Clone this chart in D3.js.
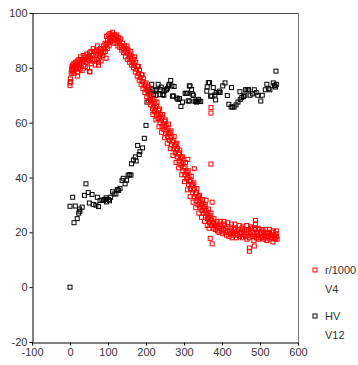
<!DOCTYPE html>
<html><head><meta charset="utf-8">
<script src="https://cdn.jsdelivr.net/npm/d3@7"></script>
<style>body{margin:0;background:#fff;} svg{display:block;} text{font-family:"Liberation Sans",Arial,sans-serif;}</style>
</head><body><svg id="c" width="358" height="365"></svg>
<script>
const xTicks = [-100,0,100,200,300,400,500,600];
const yTicks = [-20,0,20,40,60,80,100];
const legendLabels = [["r/1000","V4"],["HV","V12"]];
const seriesColors = ["#ff0000","#000000"];

const redPoints = [[0,73.5],[0,74.5],[1,76],[2,75],[3,78],[4,79.5],[5,80.5],[6,78.5],[7,81],[8,79],[9,80],[10,81.5],[11,78],[12,80.5],[14,82],[15,79.5],[16,81],[18,80],[19,82.5],[20,78.5],[22,81],[23,83],[24,80],[26,82],[27,79.5],[28,84],[30,81.5],[31,83],[32,79],[34,82.5],[35,84.5],[36,81],[38,83],[40,80.5],[41,84],[42,82],[44,85],[45,83],[46,80],[48,84],[50,82.5],[51,85.5],[52,78.5],[54,83.5],[55,86],[56,81.5],[58,84.5],[60,82.5],[61,87],[62,85],[64,83],[65,86],[66,81],[68,84.5],[70,86.5],[71,83],[72,88],[74,85],[75,82],[77,86],[78,84],[80,87],[81,85],[82,82.5],[84,86.5],[86,84.5],[88,88],[89,85.5],[90,87],[92,89],[93,86],[95,88.5],[96,91.5],[98,87],[99,90],[100,89],[101,92],[103,88],[104,90.5],[105,92.5],[107,89.5],[108,91],[110,92],[111,90],[112,93],[114,91],[115,89],[117,92],[118,90.5],[120,91.5],[121,89],[123,92],[125,90],[126,88],[128,91],[130,89.5],[131,87.5],[133,90.5],[135,88],[136,86.5],[138,89],[140,87],[141,85.5],[143,88],[145,86],[146,84],[148,87],[150,85.5],[152,83],[153,86.5],[155,84],[157,82],[158,85],[160,83.5],[162,81],[163,84],[165,82],[167,80],[168,83],[170,81],[172,78.5],[173,82],[175,79.5],[177,77],[178,80.5],[180,78],[182,75.5],[183,79],[185,76.5],[187,74],[188,77.5],[190,75],[192,72.5],[193,76],[195,73.5],[197,71],[198,74],[200,72],[202,69.5],[203,73],[205,70.5],[207,68],[208,71],[210,69],[212,66.5],[213,70],[215,67.5],[217,65],[218,68],[220,66],[222,64],[223,67],[225,65],[227,62.5],[228,66],[230,63.5],[232,61.5],[233,64.5],[235,62],[237,60],[238,63],[240,61],[242,58.5],[243,62],[245,59.5],[247,57.5],[248,60.5],[250,58.5],[252,56],[253,59],[255,57],[257,55],[258,58],[260,56],[262,53.5],[263,56.5],[265,54.5],[267,52],[268,55],[270,53],[272,50.5],[273,53.5],[275,51.5],[277,49],[278,52],[280,50],[282,47.5],[283,50.5],[285,48.5],[287,46],[288,49],[290,47],[292,44.5],[293,47.5],[295,45],[297,42.5],[298,45.5],[300,43.5],[302,41],[303,44],[305,42],[307,39.5],[308,42],[310,40],[312,37.5],[313,40.5],[315,38.5],[317,36],[318,39],[320,37],[322,34.5],[323,37.5],[325,35.5],[327,33],[328,36],[330,34],[332,31.5],[333,34.5],[335,32.5],[337,30],[338,33],[340,31],[342,29],[343,31.5],[345,30],[347,28],[348,30.5],[350,29],[352,27],[353,29.5],[355,28],[357,26],[358,28],[360,27],[362,25],[363,27],[365,25.5],[367,23.5],[368,26],[370,24.5],[372,22.5],[373,24.5],[375,23.5],[377,21.5],[378,23.5],[380,22.5],[382,21],[384,23],[386,22],[388,20.5],[390,22],[392,20],[394,21.5],[396,23],[398,20.5],[400,22],[402,19.5],[404,21],[406,23],[408,20],[410,21.5],[412,19],[414,20.5],[416,22],[418,18.5],[420,20.5],[422,19.5],[424,21.5],[426,18],[428,20],[430,19],[432,21],[434,23],[436,19.5],[438,18],[440,20.5],[442,19],[444,21],[446,18.5],[448,20],[450,19.5],[452,21.5],[454,18],[456,20],[458,19],[460,21],[462,18.5],[464,20.5],[466,17.5],[468,19.5],[470,21],[472,18],[474,20],[476,19],[478,21.5],[480,18.5],[482,20],[484,17],[486,19],[488,21],[490,18],[492,20],[494,19],[496,17.5],[498,21],[500,19.5],[502,18],[504,20],[506,18.5],[508,20.5],[510,17.5],[512,19],[514,18],[516,20],[518,17],[520,19.5],[522,18.5],[524,20],[526,17.5],[528,19],[530,18],[532,20],[534,16.5],[536,19],[538,18],[540,17.5],[542,19.5],[544,18.5],[545,17.5],
[310,46.6],[327,43.2],[371,44.9],[371,65.5],[371,63.5],[374,31],[358,31.7],[369,17.8],[374,15.8],[488,24.3],[488,23.1],[472,14.3],[472,13.1],[485,15],[20,77],[52,78.7],[75,81],[95,83.5],
[150,88],[160,86],[170,84],[180,80.5],[190,77.5],[200,74.5],[206,73],[214,71],[221,68.5],[229,67.5],[236,65],[244,63],[251,61],[259,59.5],[266,57],[274,55],[281,52.5],[289,50],[296,47.5],[304,45.5],[311,42.5],[319,40.5],[326,38],[334,36],[341,33.5],[349,32],[356,30],[364,28.5],[371,27],[379,25],[387,24],[395,24],[405,24],[415,23.5],[425,23],[435,21.5],[445,22.5],[455,22],[465,22.5],[475,22],[485,21.5],[495,21.5],[505,21],[515,21],[525,21],[535,20.5],[543,20.5],
[218,63],[226,61],[234,58.5],[241,56.5],[249,54.5],[256,52.5],[264,50.5],[271,48],[279,45.5],[286,43.5],[294,41],[301,38.5],[309,35.5],[316,33],[324,31],[331,29],[339,27],[346,25.5],[354,24],[361,22.5],[366,21.5]];

const blackPoints = [[0,0],[0,29.5],[7,32.8],[10.5,23.5],[19,25],[14,29.6],[26,27.7],[23,27],[25,28.5],[32,29.2],[38,33.5],[42,37.7],[48,34.5],[51,30.7],[58,33.8],[61,30.2],[68,29.9],[72,32.8],[75,29.4],[79,31.6],[84,31.8],[88,31.6],[92,32],[95,32.6],[96,31.1],[101,32],[104,31.5],[107,32.8],[112,34.8],[116,34],[121,34],[124.5,35.6],[128,35.3],[131.6,36],[137,38.9],[140,39.7],[145,37.7],[149,39],[153,40.9],[157,41],[160.5,40.9],[162,45],[167,46.4],[174,46],[172,47.5],[178,51.7],[182,48.4],[184,49.4],[191,50.8],[195.6,54.3],[200,59],[202.6,67.5],[206,72],[210,71.3],[212,68.5],[215,74],[218,72],[220,70.3],[224,71.8],[226,70],[228,72],[232,74],[237,72.1],[237,70.2],[240,73],[244,70.3],[247,70],[250,71.8],[254,72],[256,72.5],[259,73.4],[261,74],[265,75.4],[268,73.4],[270,69.7],[272,69.7],[274,73.2],[281,69],[284,68.5],[288,68.8],[292,65.9],[296,67.5],[303,70.7],[306,70.7],[309,70.7],[311,67.9],[314,73.4],[314,67.9],[316,73.4],[320,72.1],[323,70.4],[324.5,69.9],[329,67.7],[331,67.9],[333,67.5],[336,67.7],[338,68.5],[340,67.9],[344,67.7],[360,71.5],[361,73.1],[364,74.6],[367,74.6],[370,69.7],[373,69.7],[377,72.8],[381,70.1],[383,68.3],[385,71],[390,71],[393,71.5],[395,71],[402,73.4],[408,74.5],[414,69.9],[418,66.7],[424,65.7],[425,72.8],[428,65.7],[432,65.7],[437,66.5],[442,67.5],[447,71.3],[448,68.5],[452,69.2],[457,69.5],[460,70],[462,72],[466,72],[470,72],[474,70],[480,70.5],[485,72],[490,71],[494,70],[502,67.9],[506,70],[514,72],[518,74],[522,72.5],[526,72],[535,74.5],[538,73.5],[541,73],[543,74],[542,78.8]];

const svg = d3.select("#c");
const L=32, R=298, T=13, B=342;
const x = d3.scaleLinear().domain([-100,600]).range([L,R]);
const y = d3.scaleLinear().domain([-20,100]).range([B,T]);

// frame (top & right)
svg.append("line").attr("x1",L).attr("x2",R).attr("y1",T+0.5).attr("y2",T+0.5).attr("stroke","#444");
svg.append("line").attr("x1",R+0.5).attr("x2",R+0.5).attr("y1",T).attr("y2",B).attr("stroke","#777");

const fmt = d => String(d);
const gx = svg.append("g").attr("transform",`translate(0,${B+0.5})`)
  .call(d3.axisBottom(x).tickValues(xTicks).tickFormat(fmt).tickSize(3).tickSizeOuter(0).tickPadding(3));
const gy = svg.append("g").attr("transform",`translate(${L+0.5},0)`)
  .call(d3.axisLeft(y).tickValues(yTicks).tickFormat(fmt).tickSize(3).tickSizeOuter(0).tickPadding(2));
[gx,gy].forEach(g=>{
  g.selectAll(".domain").attr("stroke","#000");
  g.selectAll(".tick line").attr("stroke","#000");
  g.selectAll(".tick text").attr("fill","#333").style("font-size","11px").style("font-family","'Liberation Sans',Arial,sans-serif");
});

const s = 4;
function drawSeries(data,color){
  svg.append("g").selectAll("rect").data(data).join("rect")
    .attr("x",d=>x(d[0])-s/2).attr("y",d=>y(d[1])-s/2)
    .attr("width",s).attr("height",s)
    .attr("fill","none").attr("stroke",color).attr("stroke-width",1);
}
drawSeries(blackPoints,seriesColors[1]);
drawSeries(redPoints,seriesColors[0]);

// legend
const lg = svg.append("g");
const legY = [270, 316];
legendLabels.forEach((lab,i)=>{
  lg.append("rect").attr("x",313).attr("y",legY[i]-2).attr("width",4).attr("height",4)
    .attr("fill","none").attr("stroke",seriesColors[i]);
  lg.append("text").attr("x",325).attr("y",legY[i]+4).attr("fill","#333").style("font-size","11px").text(lab[0]);
  lg.append("text").attr("x",325).attr("y",legY[i]+23).attr("fill","#333").style("font-size","11px").text(lab[1]);
});
</script></body></html>
